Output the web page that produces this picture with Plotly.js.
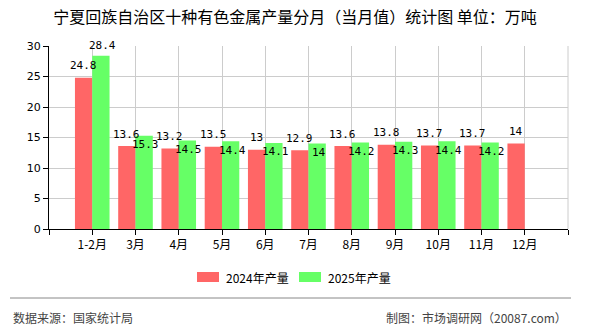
<!DOCTYPE html>
<html>
<head>
<meta charset="utf-8">
<script src="https://cdn.plot.ly/plotly-3.0.1.min.js"></script>
<style>
  html, body { margin: 0; padding: 0; background: #fff; }
  #chart { width: 590px; height: 330px; }
</style>
</head>
<body>
<div id="chart"></div>
<script>
// Monthly output of ten non-ferrous metals, Ningxia (10k tonnes)
const months = ['1-2月', '3月', '4月', '5月', '6月', '7月', '8月', '9月', '10月', '11月', '12月'];
const output2024 = [24.8, 13.6, 13.2, 13.5, 13, 12.9, 13.6, 13.8, 13.7, 13.7, 14];
const output2025 = [28.4, 15.3, 14.5, 14.4, 14.1, 14, 14.2, 14.3, 14.4, 14.2];
const seriesNames = ['2024年产量', '2025年产量'];
const seriesColors = ['#FF6666', '#66FF66'];

const W = 590, H = 330;
const M = { l: 49, r: 22, t: 46, b: 101 };
const plotW = W - M.l - M.r, plotH = H - M.t - M.b;
// pixel -> paper coordinates for decorations outside the plot area
const px = x => (x - M.l) / plotW;
const py = y => (H - M.b - y) / plotH;

const pos = arr => arr.map((_, i) => i + 1);

const traces = [
  { type: 'bar', name: seriesNames[0], x: pos(output2024), y: output2024,
    marker: { color: seriesColors[0] }, hoverinfo: 'y', showlegend: false },
  { type: 'bar', name: seriesNames[1], x: pos(output2025), y: output2025,
    marker: { color: seriesColors[1] }, hoverinfo: 'y', showlegend: false }
];

const labelFont = { family: 'DejaVu Sans Mono', size: 11, color: '#000' };
const annotations = [];
output2024.forEach((v, i) => {
  annotations.push({ x: i + 1, y: v, xref: 'x', yref: 'y', text: String(v), showarrow: false,
    xshift: -9, yshift: 12, yanchor: 'middle', font: labelFont });
});
output2025.forEach((v, i) => {
  // tall bars carry their label above, others just inside the top
  const above = v > 20;
  annotations.push({ x: i + 1, y: v, xref: 'x', yref: 'y', text: String(v), showarrow: false,
    xshift: 10, yshift: above ? 10 : -9, yanchor: 'middle', font: labelFont });
});

// legend drawn as boxes + text
const shapes = [];
const legendItems = [{ box: 197, text: 224 }, { box: 299, text: 326 }];
legendItems.forEach((it, k) => {
  shapes.push({ type: 'rect', xref: 'paper', yref: 'paper',
    x0: px(it.box), x1: px(it.box + 22), y0: py(282), y1: py(272),
    fillcolor: seriesColors[k], line: { width: 0 } });
  annotations.push({ xref: 'paper', yref: 'paper', x: px(it.text), y: py(277),
    xanchor: 'left', yanchor: 'middle', showarrow: false, text: seriesNames[k],
    font: { family: 'Noto Sans CJK SC', size: 12, color: '#000' } });
});

// footer rule and credits
shapes.push({ type: 'line', xref: 'paper', yref: 'paper',
  x0: px(10), x1: px(571), y0: py(298), y1: py(298), line: { color: '#888', width: 1 } });
annotations.push({ xref: 'paper', yref: 'paper', x: px(11), y: py(317), xanchor: 'left', yanchor: 'middle',
  showarrow: false, text: '数据来源：国家统计局', font: { family: 'Noto Sans CJK SC', size: 12, color: '#444' } });
annotations.push({ xref: 'paper', yref: 'paper', x: px(569), y: py(317), xanchor: 'right', yanchor: 'middle',
  showarrow: false, text: '制图：市场调研网（20087.com）', font: { family: 'Noto Sans CJK SC', size: 12, color: '#444' } });

const tickvals = [0].concat(pos(months), [months.length + 1]);
const ticktext = [''].concat(months, ['']);

const layout = {
  width: W, height: H,
  margin: M,
  paper_bgcolor: '#fff', plot_bgcolor: '#fff',
  font: { family: 'Noto Sans CJK SC', size: 12, color: '#000' },
  title: { text: '宁夏回族自治区十种有色金属产量分月（当月值）统计图 单位：万吨',
    x: 0.5, xref: 'container', xanchor: 'center',
    y: 1 - 17.5 / H, yref: 'container', yanchor: 'middle',
    font: { family: 'Noto Sans CJK SC', size: 16, color: '#000' } },
  barmode: 'group', bargap: 0.2, bargroupgap: 0,
  xaxis: { type: 'linear', range: [0, months.length + 1], tickvals: tickvals, ticktext: ticktext,
    showgrid: true, gridcolor: '#ccc', gridwidth: 1,
    showline: true, linecolor: '#000', linewidth: 1,
    ticks: 'outside', ticklen: 5, tickcolor: '#000', zeroline: false,
    tickfont: { family: 'Noto Sans CJK SC', size: 12, color: '#000' } },
  yaxis: { range: [0, 30], dtick: 5, tick0: 0,
    showgrid: true, gridcolor: '#ccc', gridwidth: 1,
    showline: true, linecolor: '#000', linewidth: 1,
    ticks: 'outside', ticklen: 5, tickcolor: '#000', zeroline: false,
    tickfont: { family: 'DejaVu Sans', size: 11, color: '#000' } },
  shapes: shapes,
  annotations: annotations,
  showlegend: false
};

// right edge of the grid
layout.shapes.push({ type: 'line', xref: 'paper', yref: 'paper', x0: 1, x1: 1, y0: 0, y1: 1,
  line: { color: '#ccc', width: 1 }, layer: 'below' });

Plotly.newPlot('chart', traces, layout, { staticPlot: true, displayModeBar: false });
</script>
</body>
</html>
